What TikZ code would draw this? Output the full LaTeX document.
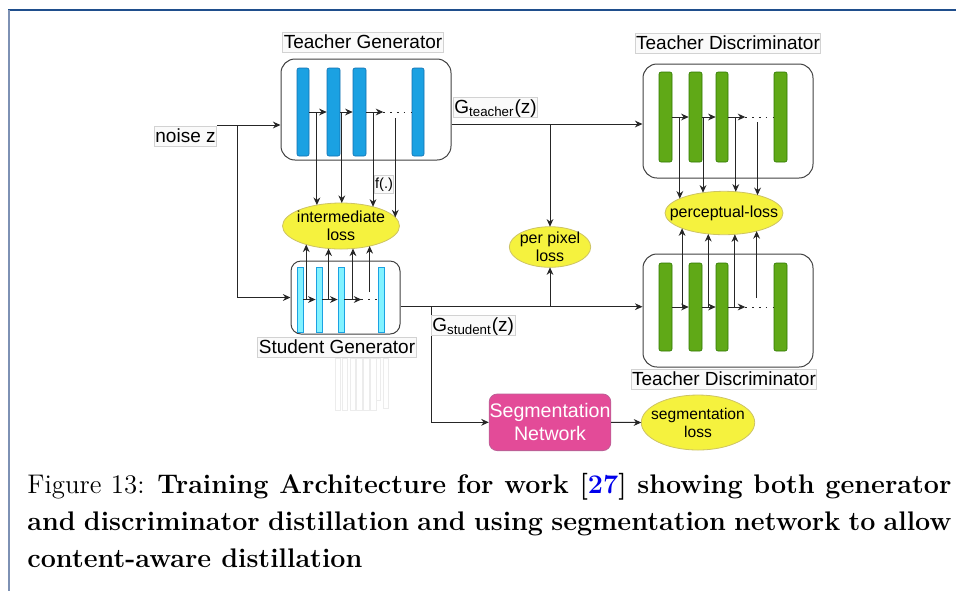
\documentclass[tikz,border=0pt]{standalone}
\usepackage{fontspec}
\newfontfamily\dfont{Liberation Sans}
\usetikzlibrary{arrows.meta,positioning,fit,shapes.geometric}
\definecolor{tblue}{RGB}{27,161,226}
\definecolor{tbluedk}{RGB}{16,110,175}
\definecolor{scyan}{RGB}{130,242,255}
\definecolor{tgreen}{RGB}{96,169,23}
\definecolor{tgreendk}{RGB}{45,118,0}
\definecolor{lyellow}{RGB}{245,242,62}
\definecolor{lyellowdk}{RGB}{205,195,100}
\definecolor{segpink}{RGB}{227,75,152}
\definecolor{segpinkdk}{RGB}{190,95,150}
\definecolor{frameblue}{RGB}{31,78,140}
\definecolor{frameside}{RGB}{125,145,180}
\definecolor{citeblue}{RGB}{0,0,235}
\newcommand\capfont{\fontsize{13.45}{18.5}\selectfont}

\begin{document}
\begin{tikzpicture}[x=0.5pt,y=-0.5pt,
  lbl/.style={draw=gray!35, fill=gray!4, inner xsep=0.5pt, inner ysep=1pt, text height=7pt, text depth=1pt, font=\dfont\fontsize{9.5}{11}\selectfont},
  netbox/.style={draw=black!75, line width=0.5pt, rounded corners=7pt, inner sep=0pt},
  tbar/.style={draw=tbluedk, fill=tblue, line width=0.3pt, rounded corners=1pt, inner sep=0pt},
  sbar/.style={draw=tblue, fill=scyan, line width=0.4pt, inner sep=0pt},
  dbar/.style={draw=tgreendk, fill=tgreen, line width=0.3pt, rounded corners=1pt, inner sep=0pt},
  lossell/.style={ellipse, draw=lyellowdk, fill=lyellow, line width=0.4pt, inner xsep=-7pt, inner ysep=-2pt, outer sep=0pt, align=center, font=\dfont\fontsize{8}{9}\selectfont},
  line/.style={draw=black!85, line width=0.5pt},
  arr/.style={line, -{Stealth[length=3.8pt,width=3.4pt]}},
  dots/.style={line, dash pattern=on 0.8pt off 2.6pt},
  ghost/.style={draw=gray!15, line width=0.4pt}]
\useasboundingbox (0,0) rectangle (956,591);
\draw[frameblue, line width=0.7pt] (8,10) -- (956,10);
\draw[frameside, line width=0.7pt] (9,10) -- (9,591);

% networks
\node[netbox, fit={(281,59) (451,160)}] (tg) {};
\node[netbox, rounded corners=5pt, fit={(291,261) (400,334)}] (sg) {};
\node[netbox, fit={(643,64) (813,178)}] (d1) {};
\node[netbox, fit={(643,254) (813,367)}] (d2) {};
\foreach \i/\xa/\xb in {1/297/309,2/327/340,3/353/366,4/412/424}
  \node[tbar, fit={(\xa,68) (\xb,156)}] (tg\i) {};
\foreach \i/\xa/\xb in {1/297/303,2/316/322,3/338/344,4/378/384}
  \node[sbar, fit={(\xa,267) (\xb,332)}] (sg\i) {};
\foreach \i/\xa/\xb in {1/659/672,2/689/702,3/716/728,4/774/787} {
  \node[dbar, fit={(\xa,72) (\xb,162)}] (d1\i) {};
  \node[dbar, fit={(\xa,263) (\xb,351)}] (d2\i) {};
}
\foreach \n in {tg,sg,d1,d2} {
  \draw[arr] (\n1.east) -- (\n2.west);
  \draw[arr] (\n2.east) -- (\n3.west);
  \draw[arr] (\n3.east) -- ++(17,0) coordinate (\n dot);
  \draw[dots] (\n dot) -- (\n4.west);
}

\node[lbl, above=3pt of tg, xshift=-1.5pt] (tgt) {Teacher Generator};
\node[lbl, below=1.2pt of sg, xshift=-4.25pt] (sgt) {Student Generator};
\node[lbl, above=5pt of d1] (d1t) {Teacher Discriminator};
\node[lbl, below=0.8pt of d2, xshift=-2pt] (d2t) {Teacher Discriminator};
\foreach \xa/\xb/\yb in {335/340/410,342/347/410,350/355/410,356/362/410,363/369/410,370/376/410,376/380/400,383/388/408}
  \draw[ghost] (\xa,358) rectangle (\xb,\yb);

% losses
\node[lossell, minimum width=58.5pt, minimum height=23pt] (ilo) at (341,226) {intermediate\\loss};
\node[lossell, minimum width=40.7pt, minimum height=20.3pt] (ppl) at (550,247) {per pixel\\loss};
\node[lossell, minimum width=59pt, minimum height=21.7pt] (pl) at (724,213) {perceptual-loss};
\node[lossell, minimum width=56.7pt, minimum height=27.5pt, font=\dfont\fontsize{7.8}{9}\selectfont] (sl) at (698,422.5) {segmentation\\loss};
\node[draw=segpinkdk, fill=segpink, rounded corners=4pt, minimum width=60.8pt, minimum height=28.3pt, inner sep=0pt, align=center, text=white, font=\dfont\fontsize{9.8}{11.5}\selectfont] (sn) at (550,422.3) {Segmentation\\Network};

% input
\node[lbl] (nz) at (185.5,136) {noise z};
\coordinate (nzb) at (237,125);
\draw[line] (nz.east |- nzb) -- (nzb);
\draw[arr] (nzb) -- (tg.west |- nzb);
\draw[arr] (nzb) |- (sg.west);

% outputs
\coordinate (tgo) at (550,124);
\coordinate (sgb) at (431,306.7);
\draw[arr] (tg.east |- tgo) -- (d1.west |- tgo);
\draw[arr] (sg.east |- sgb) -- (d2.west |- sgb);
\draw[arr] (ppl.north |- tgo) -- (ppl.north);
\draw[arr] (ppl.south |- sgb) -- (ppl.south);
\draw[arr] (sgb) |- (sn.west);
\draw[arr] (sn.east) -- (sl.west);
\node[lbl, anchor=north west] (gt) at (453,97) {G\textsubscript{teacher}(z)};
\node[lbl, anchor=north west] (gs) at (431,315) {G\textsubscript{student}(z)};

% feature taps
\coordinate (tgd) at (395,118);
\coordinate (sgd) at (369,292);
\coordinate (d1d) at (757,122);
\coordinate (d2d) at (757,298);
\foreach \a in {139,88,31} \draw[arr] (ilo.\a |- tg1.east) -- (ilo.\a);
\draw[arr] (ilo.9 |- tgd) -- (ilo.9);
\foreach \a in {208,241,298} \draw[arr] (ilo.\a |- sg1.east) -- (ilo.\a);
\draw[arr] (ilo.325 |- sgd) -- (ilo.325);
\foreach \a in {162,136,61} \draw[arr] (pl.\a |- d11.east) -- (pl.\a);
\draw[arr] (pl.28 |- d1d) -- (pl.28);
\foreach \a in {200,233,297} \draw[arr] (pl.\a |- d21.east) -- (pl.\a);
\draw[arr] (pl.331 |- d2d) -- (pl.331);
\node[lbl, text height=5.5pt, text depth=1.5pt, inner xsep=0.3pt, font=\dfont\fontsize{7.3}{8}\selectfont] (fdot) at (384,184.5) {f(.)};

% caption
\node[anchor=base west, inner sep=0pt, font=\capfont] (cap1) at (27,493) {\makebox[462pt][s]{Figure 13: \textbf{Training Architecture for work [\textcolor{citeblue}{27}] showing both generator}}};
\node[anchor=base west, inner sep=0pt, font=\capfont] (cap2) at (27,530) {\makebox[462pt][s]{\textbf{and discriminator distillation and using segmentation network to allow}}};
\node[anchor=base west, inner sep=0pt, font=\capfont] (cap3) at (27,567) {\textbf{content-aware distillation}};
\end{tikzpicture}
\end{document}
